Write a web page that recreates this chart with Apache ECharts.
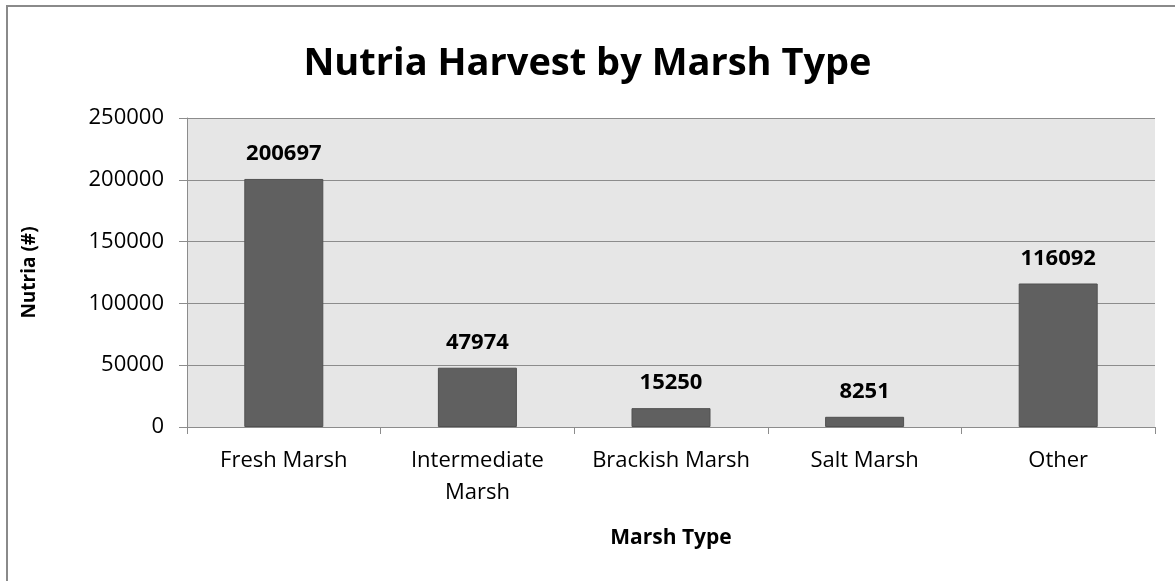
<!DOCTYPE html>
<html lang="en">
<head>
    <meta charset="utf-8">
    <script type="text/javascript" src="https://cdn.jsdelivr.net/npm/echarts@6/dist/echarts.min.js"></script>
</head>
<body style="margin: 0; background: #fff">
<div id="container" style="width:1175px;height:581px"></div>

<script type="text/javascript">
    var categories = ['Fresh Marsh', 'Intermediate\nMarsh', 'Brackish Marsh', 'Salt Marsh', 'Other'];
    var harvest = [200697, 47974, 15250, 8251, 116092];
    var yTicks = [0, 50000, 100000, 150000, 200000, 250000];

    var font = '"Open Sans", Lato, sans-serif';
    var myChart = echarts.init(document.getElementById('container'));

    var option = {
        animation: false,
        title: {
            text: 'Nutria Harvest by Marsh Type',
            left: 'center',
            top: 40,
            textStyle: {fontFamily: font, fontSize: 38, fontWeight: 'bold', color: '#000'}
        },
        graphic: [{
            type: 'rect',
            shape: {x: 7, y: 6, width: 1180, height: 600},
            style: {fill: 'none', stroke: '#8a8a8a', lineWidth: 2}
        }],
        grid: {
            left: 187, top: 118, right: 20, bottom: 154,
            show: true, backgroundColor: '#e6e6e6', borderWidth: 0
        },
        xAxis: {
            type: 'category',
            data: categories,
            name: 'Marsh Type',
            nameLocation: 'middle',
            nameGap: 101,
            nameTextStyle: {fontFamily: font, fontSize: 21, fontWeight: 'bold', color: '#000'},
            axisLine: {lineStyle: {color: '#8c8c8c', width: 1}},
            axisTick: {show: true, interval: 0, length: 7, lineStyle: {color: '#8c8c8c'}},
            axisLabel: {
                interval: 0, hideOverlap: false,
                fontFamily: font, fontSize: 22, color: '#000', margin: 18, lineHeight: 32
            }
        },
        yAxis: {
            type: 'value',
            min: 0,
            max: yTicks[yTicks.length - 1],
            interval: yTicks[1] - yTicks[0],
            name: 'Nutria (#)',
            nameLocation: 'middle',
            nameGap: 148,
            nameTextStyle: {fontFamily: font, fontSize: 19, fontWeight: 'bold', color: '#000'},
            axisLine: {show: true, lineStyle: {color: '#8c8c8c'}},
            axisTick: {show: true, length: 8, lineStyle: {color: '#8c8c8c'}},
            axisLabel: {
                fontFamily: font, fontSize: 22, color: '#000', margin: 23,
                formatter: function (v) { return String(v); }
            },
            splitLine: {lineStyle: {color: '#8c8c8c', width: 1}}
        },
        series: [{
            type: 'bar',
            data: harvest,
            barWidth: 79,
            itemStyle: {color: '#606060', borderColor: '#505050', borderWidth: 1},
            label: {
                show: true,
                position: 'top',
                distance: 14,
                fontFamily: font,
                fontSize: 22,
                fontWeight: 'bold',
                color: '#000'
            }
        }]
    };

    myChart.setOption(option);
</script>
</body>
</html>
